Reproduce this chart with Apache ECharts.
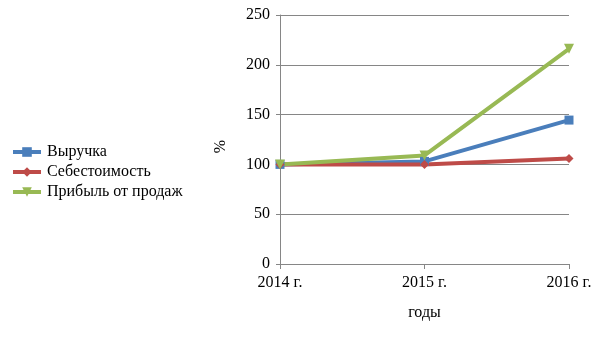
<!DOCTYPE html>
<html>
<head>
<meta charset="utf-8">
<script src="https://cdn.jsdelivr.net/npm/echarts@6/dist/echarts.min.js"></script>
<style>
  html, body { margin: 0; padding: 0; background: #fff; }
  #chart { width: 605px; height: 340px; }
</style>
</head>
<body>
<div id="chart"></div>
<script>
// Years on the category axis
const years = ['2014 г.', '2015 г.', '2016 г.'];
// Index values, % of 2014
const revenue = [100, 103, 144.5];
const cost = [100, 100, 106];
const profit = [100, 109, 216];
const seriesNames = ['Выручка', 'Себестоимость', 'Прибыль от продаж'];
const colors = ['#4a7ebb', '#be4b48', '#98b954'];

const FONT = 'Liberation Serif';

const chart = echarts.init(document.getElementById('chart'), null, { renderer: 'canvas' });

function lineSeries(name, data, color, symbol, size, rotate) {
  return {
    name: name,
    type: 'line',
    data: data,
    symbol: symbol,
    symbolSize: size,
    symbolRotate: rotate || 0,
    showAllSymbol: true,
    lineStyle: { color: color, width: 4 },
    itemStyle: { color: color },
    emphasis: { disabled: true },
    animation: false
  };
}

chart.setOption({
  animation: false,
  color: colors,
  grid: { left: 280, right: 36, top: 15, bottom: 76, containLabel: false },
  legend: {
    orient: 'vertical',
    left: 6,
    top: 139,
    itemGap: 4,
    itemWidth: 28,
    itemHeight: 12,
    data: seriesNames,
    lineStyle: { width: 4 },
    textStyle: { fontFamily: FONT, fontSize: 16, color: '#000', padding: [0, 0, 0, 1] },
    selectedMode: false
  },
  xAxis: {
    type: 'category',
    data: years,
    boundaryGap: false,
    name: 'годы',
    nameLocation: 'middle',
    nameGap: 41,
    nameTextStyle: { fontFamily: FONT, fontSize: 16, color: '#000' },
    axisLine: { show: true, lineStyle: { color: '#868686', width: 1 } },
    axisTick: { show: true, alignWithLabel: true, length: 5, lineStyle: { color: '#868686' } },
    axisLabel: { fontFamily: FONT, fontSize: 16, color: '#000', margin: 11 },
    splitLine: { show: false }
  },
  yAxis: {
    type: 'value',
    min: 0,
    max: 250,
    interval: 50,
    name: '%',
    nameLocation: 'middle',
    nameGap: 51,
    nameRotate: 90,
    nameTextStyle: { fontFamily: FONT, fontSize: 16, color: '#000', padding: [0, 14, 0, 0] },
    axisLine: { show: true, lineStyle: { color: '#868686', width: 1 } },
    axisTick: { show: true, length: 4, lineStyle: { color: '#868686' } },
    axisLabel: { fontFamily: FONT, fontSize: 16, color: '#000', margin: 10 },
    splitLine: { show: true, lineStyle: { color: '#868686', width: 1 } }
  },
  series: [
    lineSeries(seriesNames[0], revenue, colors[0], 'rect', 9),
    lineSeries(seriesNames[1], cost, colors[1], 'diamond', 9),
    lineSeries(seriesNames[2], profit, colors[2], 'triangle', 10, 180)
  ]
});
</script>
</body>
</html>
